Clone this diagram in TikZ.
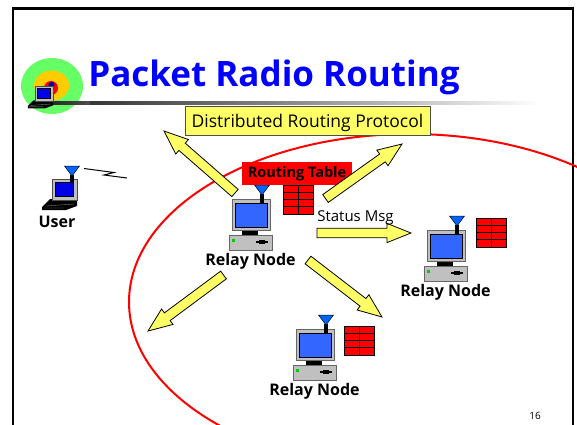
\documentclass[tikz,border=0pt]{standalone}
\usepackage{fontspec}
\setmainfont{Open Sans}
\usetikzlibrary{positioning,calc}
\definecolor{lightyellow}{HTML}{FFFF66}
\definecolor{logogreen}{HTML}{66FF66}
\definecolor{logoorange}{HTML}{FFCC00}
\definecolor{screenblue}{HTML}{3366FF}
\definecolor{aerialblue}{HTML}{0066FF}
\definecolor{casegray}{HTML}{C0C0C0}
\definecolor{titleblue}{HTML}{0000FF}
\tikzset{
    lbl/.style={inner sep=0pt, font=\fontsize{16}{18}\selectfont\bfseries},
    fatarrow/.style={draw=black, fill=lightyellow, line width=0.8pt, line join=miter},
    aerial/.style={draw=black, fill=aerialblue, line width=0.5pt},
    pics/aerialmast/.style={code={
        \fill[black] (-1.7,9) rectangle (1.7,#1);
        \path[aerial] (-7.5,0) -- (7.5,0) -- (0,10) -- cycle;
    }},
    pics/relaynode/.style={code={
        \fill[black] (10,31) rectangle (26,36);
        \draw[black!60, fill=casegray, line width=0.8pt] (0,0) rectangle (38,31);
        \draw[black, fill=screenblue] (3,4) rectangle (35,28);
        \draw[black!60, fill=casegray, line width=0.8pt] (-3,36) rectangle (40,51);
        \fill[green!80!black] (0,40) rectangle (3,43);
        \fill[black] (24,41.5) rectangle (36,43.5);
        \fill[black] (27,40.5) rectangle (33,44.5);
        \coordinate (-base) at (18.5,51);
        \pic at (30,-14) {aerialmast=19};
    }},
    pics/routetable/.style={code={
        \draw[black, fill=red, line width=1pt] (0,0) rectangle (30,29);
        \draw[black, line width=1pt] (15,0) -- (15,29)
            (0,7.25) -- (30,7.25) (0,14.5) -- (30,14.5) (0,21.75) -- (30,21.75);
    }},
    pics/laptop/.style={code={
        \fill[black] (-10,31) -- (-10,28) -- (-2,20) -- (25,20) -- (25,27) -- (14,31) -- cycle;
        \draw[black!50, line width=0.4pt] (-6,27) -- (22,25) (-8,29) -- (12,29);
        \draw[black!70, fill=casegray, line width=0.8pt] (0,0) rectangle (25,21);
        \fill[black] (2.5,2.5) rectangle (22,18);
        \fill[blue!90!black] (3.5,3.5) rectangle (21,16.5);
    }}
}
\newcommand{\blockarrow}[2]{%
    \coordinate (hd) at ($(#2)!24pt!(#1)$);
    \path[fatarrow] ($(#1)!4.8pt!90:(#2)$) -- ($(hd)!4.8pt!-90:(#1)$) -- ($(hd)!9.6pt!-90:(#1)$)
        -- (#2) -- ($(hd)!9.6pt!90:(#1)$) -- ($(hd)!4.8pt!90:(#1)$) -- ($(#1)!4.8pt!-90:(#2)$) -- cycle;
}
\begin{document}
\begin{tikzpicture}[x=1pt, y=-1pt]
    \path[use as bounding box, clip] (0,0) rectangle (577,424);
    \fill[white] (0,0) rectangle (577,424);

    % slide frame and title
    \draw[black, line width=2.4pt] (13,8.5) rectangle (573,445);
    \node[font=\fontsize{35}{40}\selectfont\bfseries, text=titleblue, inner sep=0pt] (title) at (274,77) {Packet Radio Routing};
    \shade[left color=black!85, right color=white, middle color=black!45] (50,101) rectangle (540,104);

    % logo
    \fill[logogreen] (52,86) ellipse [x radius=31, y radius=28];
    \fill[logoorange] (51.5,85.5) ellipse [x radius=17.5, y radius=15];
    \fill[red] (51,88) circle (7);
    \fill[blue!60!black] (51.5,85) circle (3.2);
    \shade[left color=black!85, right color=black!70] (50,101) rectangle (90,104);
    \pic[scale=0.72] at (35,86) {laptop};

    % radio range
    \draw[red, line width=2pt] (410,302) ellipse [x radius=281, y radius=168];

    \node[draw=black!70, fill=lightyellow, line width=0.8pt, minimum width=245pt, minimum height=29pt, inner sep=0pt,
        text height=13pt, text depth=0pt, font=\fontsize{17.5}{20}\selectfont] (protocol) at (307.5,120.5) {Distributed Routing Protocol};

    % user
    \pic at (52,179) {laptop};
    \pic at (72,166) {aerialmast=16};
    \coordinate (userbase) at (57,210);
    \node[lbl, below=6pt of userbase] (user) {User};
    \coordinate (zigstart) at (84,168.5);
    \coordinate (zigend) at (127,178);
    \draw[black, line width=1pt] (zigstart) -- (114,172.5) -- (104,175) -- (zigend);

    % relay nodes
    \pic (relaytop) at (232,199) {relaynode};
    \pic (relayright) at (427,230) {relaynode};
    \pic (relaybottom) at (296,329) {relaynode};
    \pic at (283,185) {routetable};
    \pic at (476,218) {routetable};
    \pic at (344,326) {routetable};
    \node[lbl, below=3pt of relaytop-base] (toplabel) {Relay Node};
    \node[lbl, below=3pt of relayright-base] (rightlabel) {Relay Node};
    \node[lbl, below=3pt of relaybottom-base] (bottomlabel) {Relay Node};

    \node[fill=red, minimum width=110pt, minimum height=23pt, inner sep=0pt,
        font=\fontsize{14.5}{16}\selectfont\bfseries] (table) at (297,173.5) {Routing Table};

    % update arrows
    \coordinate (upleftbase) at (235,193);
    \coordinate (uplefttip) at (164,131);
    \coordinate (uprightbase) at (325.5,198.5);
    \coordinate (uprighttip) at (402,144);
    \coordinate (statusbase) at (317,233);
    \coordinate (statustip) at (411,233);
    \coordinate (downleftbase) at (223.5,275);
    \coordinate (downlefttip) at (148,331);
    \coordinate (downrightbase) at (308,260);
    \coordinate (downrighttip) at (382,317);
    \blockarrow{upleftbase}{uplefttip}
    \blockarrow{uprightbase}{uprighttip}
    \blockarrow{statusbase}{statustip}
    \blockarrow{downleftbase}{downlefttip}
    \blockarrow{downrightbase}{downrighttip}

    \node[inner sep=0pt, font=\fontsize{15}{17}\selectfont] (status) at (355.5,218) {Status Msg};
    \node[inner sep=0pt, font=\fontsize{10}{12}\selectfont] (pagenum) at (535,416) {16};
\end{tikzpicture}
\end{document}
